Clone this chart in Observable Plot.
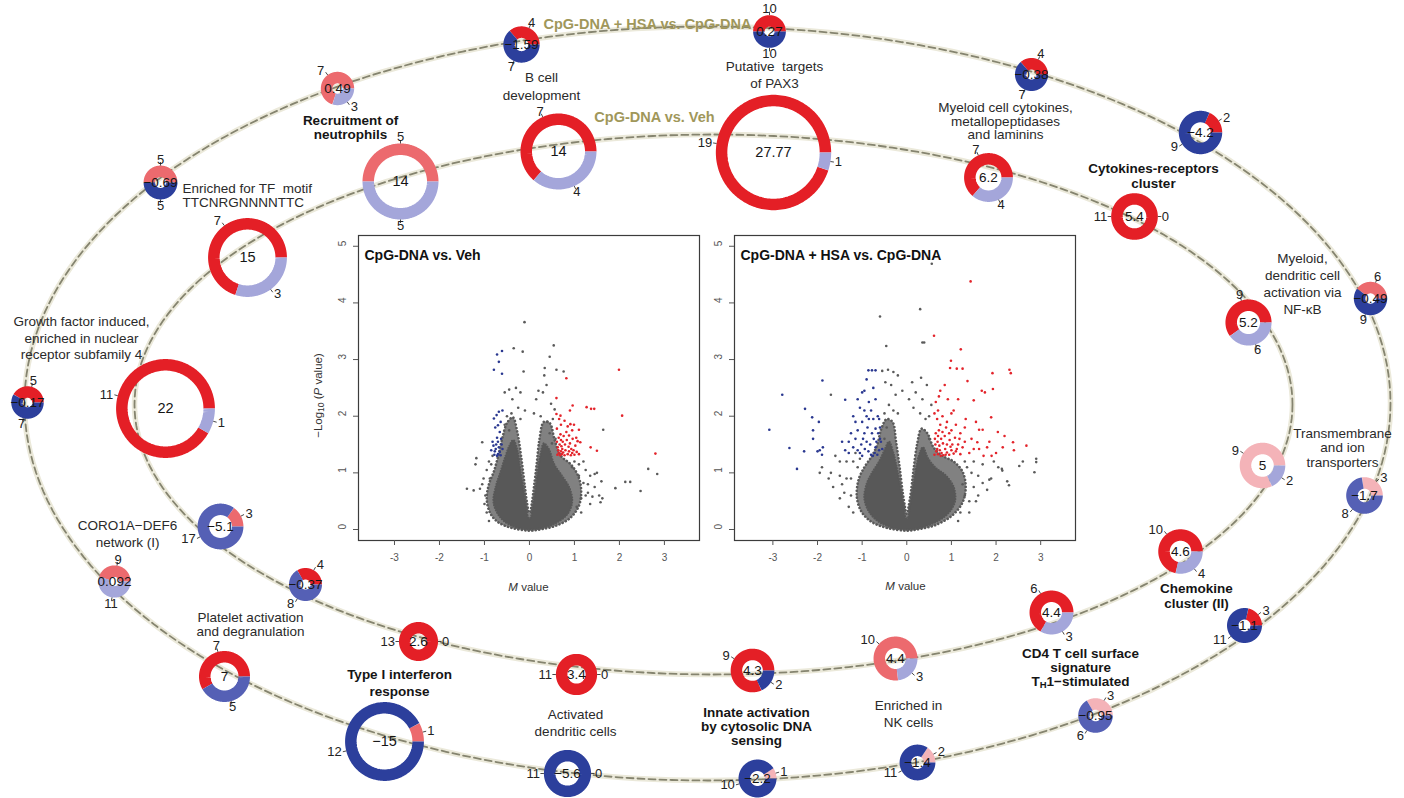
<!DOCTYPE html>
<html><head><meta charset="utf-8">
<script src="https://cdn.jsdelivr.net/npm/d3@7"></script>
<script src="https://cdn.jsdelivr.net/npm/@observablehq/plot@0.6"></script>
<style>
body{margin:0;background:#fff;}
#wrap{position:relative;width:1404px;height:798px;overflow:hidden;background:#fff;}
#wrap svg{position:absolute;}
</style></head><body><div id="wrap"></div>
<script>
// ---------------- DATA ----------------
const modules = [
  "Growth factor induced,\nenriched in nuclear\nreceptor subfamily 4",
  "Enriched for TF  motif\nTTCNRGNNNNTTC",
  "Recruitment of\nneutrophils",
  "B cell\ndevelopment",
  "Putative  targets\nof PAX3",
  "Myeloid cell cytokines,\nmetallopeptidases\nand laminins",
  "Cytokines-receptors\ncluster",
  "Myeloid,\ndendritic cell\nactivation via\nNF-κB",
  "Transmembrane\nand ion\ntransporters",
  "Chemokine\ncluster (II)",
  "CD4 T cell surface\nsignature\nTH1−stimulated",
  "Enriched in\nNK cells",
  "Innate activation\nby cytosolic DNA\nsensing",
  "Activated\ndendritic cells",
  "Type I interferon\nresponse",
  "Platelet activation\nand degranulation",
  "CORO1A−DEF6\nnetwork (I)"
];
const highlightedModules = [2, 6, 9, 10, 12, 14];
const ringTitles = ["CpG-DNA + HSA vs. CpG-DNA", "CpG-DNA vs. Veh"];

// inner ring: CpG-DNA vs. Veh
const vehScore = [22, 15, 14, 14, 27.77, 6.2, 5.4, 5.2, 5, 4.6, 4.4, 4.4, 4.3, 3.4, 2.6, -0.37, -5.1];
const vehUp    = [11, 7, 5, 7, 19, 7, 11, 9, 9, 10, 6, 10, 9, 11, 13, 4, 3];
const vehDown  = [1, 3, 5, 4, 1, 4, 0, 6, 2, 4, 3, 3, 2, 0, 0, 8, 17];
const vehUpLevel   = [3, 3, 2, 3, 3, 3, 3, 3, 1, 3, 3, 2, 3, 3, 3, 3, 2];
const vehDownLevel = [1, 1, 1, 1, 1, 1, 0, 1, 1, 1, 1, 1, 3, 0, 0, 2, 2];
// outer ring: CpG-DNA + HSA vs. CpG-DNA
const hsaScore = [-0.17, -0.69, 0.49, -1.59, 0.27, -0.38, -4.2, -0.49, -1.7, -1.1, -0.95, -1.4, -2.2, -5.6, -15, 7, 0.092];
const hsaUp    = [5, 5, 7, 4, 10, 4, 2, 6, 3, 3, 3, 2, 1, 0, 1, 7, 9];
const hsaDown  = [7, 5, 3, 7, 10, 7, 9, 9, 8, 11, 6, 11, 10, 11, 12, 5, 11];
const hsaUpLevel   = [3, 2, 2, 3, 3, 3, 3, 2, 1, 3, 1, 1, 1, 0, 2, 3, 2];
const hsaDownLevel = [3, 3, 1, 3, 3, 3, 3, 3, 2, 3, 2, 3, 3, 3, 3, 2, 1];

// volcano: CpG-DNA vs. Veh  [M value, -log10 P]
const vehGrey = [[-0.11,3.66],[0.54,3.25],[-0.35,3.2],[-0.15,3.14],[-0.13,2.79],[0.45,3.05],[0.34,2.85],[0.6,2.82],[0.76,2.79],[0.33,2.72],[0.38,2.55],[0.3,2.42],[0.2,2.45],[-0.3,2.5],[-0.2,2.42],[-0.45,2.47],[-0.55,2.42],[-0.38,2.3],[0.15,2.3],[0.48,2.22],[0.56,2.12],[0.1,2.05],[-0.1,2.1],[-0.25,2.15],[-0.5,2.0],[0.45,1.7],[0.5,1.52],[0.4,1.9],[-0.45,1.75],[-0.55,1.85],[0.52,1.95],[0.58,1.6],[-0.4,2.05],[0.25,2.0],[-0.2,1.95],
  [-1.05,1.54],[-1.18,1.26],[-1.2,1.15],[-1.39,0.72],[-1.24,0.69],[-1.1,0.72],[-1.02,0.9],[-0.95,1.05],[-0.9,1.2],[-0.98,0.6],[-1.0,0.45],[-0.95,0.3],[-0.85,1.15],[-0.88,0.9],[-0.82,1.3],[-1.05,0.8],[-0.9,0.15],
  [1.64,1.76],[1.2,1.2],[1.25,1.05],[1.35,0.95],[1.45,0.98],[1.5,1.0],[1.3,0.8],[1.45,0.75],[1.55,0.6],[1.58,0.48],[1.62,0.55],[1.91,0.73],[2.13,0.84],[2.24,0.84],[2.47,0.68],[2.64,1.07],[2.84,0.98],[1.15,0.55],[1.25,0.6],[1.35,0.45],[1.1,0.95],[1.2,0.82],[1.05,0.4],[1.1,1.15],[1.3,0.65],[1.15,0.3],[1.4,0.58],[1.0,1.2],[0.95,1.1],[1.6,0.85]];
const vehRed = [[1.99,2.82],[2.06,2.01],[2.8,1.34],[0.96,2.19],[1.27,2.16],[1.37,2.13],[1.44,2.13],[0.82,2.67],[0.6,2.32],[0.6,2.04],[0.69,2.01],[0.9,2.1],[0.91,1.86],[0.99,1.85],[1.1,1.76],[1.36,1.45],[1.5,1.39],[1.13,1.54],
  [0.62,1.32],[0.65,1.35],[0.68,1.31],[0.7,1.38],[0.72,1.33],[0.75,1.36],[0.78,1.31],[0.8,1.4],[0.85,1.33],[0.88,1.38],[0.92,1.31],[0.95,1.35],[1.0,1.32],[1.05,1.37],[1.1,1.33],[0.63,1.45],[0.67,1.5],[0.71,1.47],[0.74,1.55],[0.79,1.5],[0.83,1.58],[0.87,1.46],[0.9,1.52],[0.96,1.6],[1.02,1.48],[0.65,1.62],[0.69,1.68],[0.76,1.65],[0.82,1.72],[0.88,1.66],[0.95,1.75],[0.61,1.78],[0.7,1.85],[0.66,1.95],[0.78,1.92],[0.85,1.82],[1.07,1.56],[0.64,1.4],[0.73,1.42],[0.93,1.42],[0.61,1.55],[0.7,1.58],[0.98,1.4],[1.04,1.62]];
const vehBlue = [[-0.61,3.15],[-0.72,3.09],[-0.79,2.82],[-0.68,2.96],[-0.61,2.75],[-0.6,2.1],[-0.73,2.02],[-0.79,1.96],[-0.7,1.84],[-0.66,1.72],[-0.72,1.62],[-0.63,1.6],[-0.8,1.48],[-0.74,1.5],[-0.68,1.45],[-0.6,1.42],[-0.77,1.38],[-0.7,1.33],[-0.64,1.31],[-0.82,1.55],[-0.75,1.42],[-0.66,1.37],[-0.62,1.5],[-0.85,1.4],[-0.72,1.3],[-0.76,1.8],[-0.68,2.08],[-0.64,1.9],[-0.78,1.32],[-0.7,1.55]];
// outline of the dense grey cloud: solid core and sparser fringe
const vehCore = [[0,0],[-0.3,0.04],[-0.55,0.14],[-0.72,0.3],[-0.8,0.5],[-0.75,0.75],[-0.65,1.0],[-0.55,1.25],[-0.46,1.45],[-0.36,1.58],[-0.27,1.4],[-0.2,1.05],[-0.13,0.7],[-0.07,0.4],[-0.02,0.2],[0.02,0.2],[0.07,0.4],[0.13,0.7],[0.18,1.0],[0.24,1.3],[0.32,1.52],[0.43,1.42],[0.55,1.15],[0.72,0.95],[0.88,0.75],[0.95,0.5],[0.85,0.28],[0.6,0.12],[0.3,0.03]];
const vehFringe = [[0,-0.02],[-0.4,0.03],[-0.7,0.13],[-0.88,0.3],[-0.95,0.55],[-0.9,0.8],[-0.78,1.05],[-0.68,1.35],[-0.6,1.62],[-0.5,1.88],[-0.37,1.98],[-0.27,1.72],[-0.17,1.2],[-0.1,0.75],[-0.05,0.45],[-0.01,0.3],[0.01,0.3],[0.05,0.45],[0.1,0.75],[0.16,1.15],[0.22,1.58],[0.32,1.9],[0.45,1.88],[0.56,1.58],[0.7,1.3],[0.92,1.15],[1.08,0.95],[1.15,0.7],[1.1,0.42],[0.9,0.2],[0.6,0.07],[0.3,0.01]];

// volcano: CpG-DNA + HSA vs. CpG-DNA
const hsaGrey = [[0.56,4.69],[0.3,3.89],[-0.6,3.76],[-0.46,3.24],[0.35,3.3],[0.39,3.3],[-0.55,2.8],[-0.42,2.82],[-0.3,2.78],[-0.2,2.72],[-0.48,2.6],[-0.35,2.55],[0.12,2.6],[0.32,2.68],[0.45,2.55],[0.2,2.42],[-0.25,2.38],[-0.4,2.2],[0.35,2.3],[0.55,2.2],[0.15,2.15],[-0.2,2.05],[0.5,2.0],[-0.5,2.05],[0.05,2.3],[-0.1,2.45],[0.42,1.95],[-0.45,1.8],[0.5,1.6],[-0.5,1.6],[0.3,2.05],[-0.3,2.1],
  [-1.7,2.38],[-1.5,1.2],[-1.7,1.0],[-1.9,1.1],[-1.95,1.0],[-1.75,0.9],[-1.65,0.75],[-1.5,0.95],[-1.35,0.9],[-1.4,0.65],[-1.5,0.55],[-1.25,0.6],[-1.3,0.4],[-1.2,1.2],[-1.1,1.1],[-1.25,0.9],[-1.35,1.2],[-1.45,0.8],[-1.2,0.3],[-1.05,1.25],[-1.6,1.3],[-1.15,1.35],
  [2.52,1.12],[2.9,1.19],[2.9,1.25],[2.86,1.01],[2.14,1.04],[2.13,1.07],[2.29,0.78],[2.25,0.85],[1.89,0.9],[1.85,0.88],[1.7,0.82],[1.6,0.95],[1.5,0.75],[1.45,1.0],[1.35,1.1],[1.4,0.5],[1.55,0.5],[1.2,0.3],[1.7,1.15],[2.05,1.1],[1.8,0.7],[1.3,1.2],[1.5,1.2],[1.25,0.8],[1.4,0.3],[1.6,0.6],[1.15,0.15],[1.3,0.6],[1.95,1.2],[2.6,1.2]];
const hsaRed = [[1.43,4.38],[0.61,3.42],[1.21,3.18],[0.99,2.98],[0.97,2.85],[1.12,2.84],[1.25,2.84],[1.92,2.76],[2.3,2.82],[2.33,2.76],[1.75,2.42],[1.93,2.48],[1.68,2.45],[1.5,2.28],[1.36,2.62],[0.85,2.55],[0.75,2.45],[0.72,2.35],[0.92,2.3],[1.15,2.3],[1.05,2.1],[0.7,2.1],[0.62,2.05],[0.8,2.0],[1.32,1.95],[1.55,1.9],[1.89,1.98],[1.7,1.76],[1.62,1.76],[2.04,1.72],[2.19,1.65],[2.38,1.54],[2.68,1.48],[1.58,1.54],[1.8,1.45],[2.0,1.35],[1.62,1.42],[1.45,1.6],[1.2,1.7],[1.1,1.85],[0.9,1.9],[1.4,1.35],[1.72,1.3],[2.4,1.4],[1.9,1.3],[1.25,1.45],[1.85,1.55],[1.3,1.8],[1.0,2.05],[0.65,2.25],[0.68,1.95],[1.5,1.42],[2.15,1.45],
  [0.62,1.32],[0.66,1.38],[0.7,1.33],[0.74,1.4],[0.78,1.35],[0.82,1.31],[0.86,1.42],[0.9,1.36],[0.95,1.32],[1.0,1.4],[1.05,1.34],[1.1,1.38],[0.64,1.5],[0.69,1.55],[0.73,1.48],[0.77,1.6],[0.81,1.52],[0.85,1.65],[0.9,1.5],[0.96,1.58],[1.02,1.5],[1.08,1.62],[0.65,1.7],[0.72,1.75],[0.8,1.72],[0.88,1.8],[0.95,1.7],[1.15,1.5],[1.2,1.33],[1.3,1.55],[0.68,1.42],[0.76,1.3],[0.87,1.32],[0.98,1.46],[1.12,1.42],[0.63,1.6],[0.75,1.85],[1.0,1.75],[1.18,1.6],[0.7,1.65]];
const hsaBlue = [[-1.89,2.63],[-2.79,2.38],[-3.08,1.76],[-2.28,2.13],[-2.12,1.98],[-1.97,1.9],[-2.1,1.75],[-2.1,1.6],[-1.88,1.45],[-1.9,1.32],[-2.0,1.38],[-1.95,1.4],[-2.63,1.44],[-2.3,1.38],[-2.46,1.07],[-1.38,2.29],[-1.45,1.55],[-1.38,1.4],[-1.3,1.35],[-1.2,1.45],[-1.15,1.6],[-1.1,1.75],[-1.2,2.0],[-1.05,2.15],[-1.0,2.42],[-0.95,2.45],[-0.86,2.81],[-0.78,2.81],[-0.7,2.81],[-1.05,1.35],[-1.0,1.9],[-0.95,1.7],[-0.9,2.0],[-0.85,2.25],[-0.8,2.1],[-0.75,1.95],[-0.7,2.3],[-0.65,2.0],[-0.6,1.8],[-0.58,1.55],[-0.62,1.4],[-0.66,1.32],[-0.7,1.45],[-0.74,1.6],[-0.78,1.7],[-0.82,1.5],[-0.86,1.38],[-0.9,1.55],[-0.94,1.42],[-0.98,1.6],[-1.02,1.5],[-1.1,1.4],[-0.72,1.35],[-0.68,1.55],[-0.64,1.7],[-0.76,1.3],[-0.88,1.8],[-1.25,1.7],[-0.8,1.32],[-0.6,1.6],[-0.7,1.78],[-0.75,2.5],[-0.9,2.65],[-1.1,2.3],[-0.85,1.95],[-1.3,1.55],[-1.0,1.3],[-0.62,1.95],[-0.55,1.42],[-0.95,2.1],[-1.15,1.9]];
const hsaCore = [[0,0],[-0.35,0.04],[-0.65,0.15],[-0.85,0.32],[-0.95,0.55],[-0.9,0.8],[-0.78,1.0],[-0.62,1.2],[-0.5,1.4],[-0.4,1.55],[-0.3,1.35],[-0.2,1.0],[-0.12,0.65],[-0.06,0.38],[-0.02,0.2],[0.02,0.2],[0.06,0.38],[0.12,0.65],[0.19,1.0],[0.27,1.3],[0.36,1.45],[0.48,1.25],[0.66,1.08],[0.88,0.95],[1.05,0.75],[1.08,0.5],[0.92,0.28],[0.62,0.12],[0.3,0.03]];
const hsaFringe = [[0,-0.02],[-0.45,0.03],[-0.8,0.14],[-1.02,0.32],[-1.12,0.58],[-1.08,0.88],[-0.95,1.1],[-0.78,1.3],[-0.66,1.5],[-0.57,1.78],[-0.45,1.95],[-0.32,1.9],[-0.24,1.55],[-0.16,1.1],[-0.09,0.65],[-0.04,0.4],[-0.01,0.28],[0.01,0.28],[0.04,0.4],[0.09,0.65],[0.15,1.05],[0.23,1.5],[0.33,1.78],[0.46,1.7],[0.6,1.45],[0.8,1.3],[1.05,1.2],[1.25,1.02],[1.32,0.75],[1.25,0.48],[1.02,0.25],[0.65,0.08],[0.3,0.01]];

const xTicks = [-3, -2, -1, 0, 1, 2, 3];
const yTicks = [0, 1, 2, 3, 4, 5];

// ---------------- LAYOUT (pixel positions, not data) ----------------
const innerPos = [[165,408],[247,257],[400,181],[558,151],[773,152],[988,177],[1134,216],[1248,322],[1262,465],[1180,551],[1051,612],[895,658],[752,670],[576,674],[418,641],[305,584],[220,526]];
const outerPos = [[27,402],[160,182],[337,88],[521,44],[769,31],[1031,74],[1200,132],[1370,298],[1364,495],[1244,625],[1095,715],[917,762],[757,778],[567,773],[384,741],[224,676],[114,581]];
const labelLayout = [[81,338,16.5,"middle"],[182,195,14,"start"],[350,127,14,"middle"],[541,86,18,"middle"],[774,74.5,17,"middle"],[1005,121,13.5,"middle"],[1153,175.5,15,"middle"],[1302,283.5,17,"middle"],[1342,447.5,14.5,"middle"],[1196,595.5,15,"middle"],[1080,667,14,"middle"],[908,713.5,17,"middle"],[756,726,14,"middle"],[575,722.5,17,"middle"],[399,682.5,17,"middle"],[250,624,14,"middle"],[127,533.5,17,"middle"]];
const ringTitlePos = [[647,24],[654,117]];
const outerEllipse = {cx: 707, cy: 403, rx: 683, ry: 377};
const innerEllipse = {cx: 713, cy: 404, rx: 579, ry: 270};

// ---------------- STYLE ----------------
const FONT = '"Liberation Sans", Arial, Helvetica, sans-serif';
const upColors = {1: "#f4b3b8", 2: "#ec6a6e", 3: "#e41f26"};
const downColors = {1: "#a4a6da", 2: "#5560b5", 3: "#2c3f9c"};
const RING = 11.5;
const radius = d3.scaleLinear().domain([0, 7, 14, 28]).range([16, 25.5, 38, 58]);

const ctx = document.createElement("canvas").getContext("2d");
function tw(s, size, weight = "normal", style = "normal") {
  ctx.font = `${style} ${weight} ${size}px "Liberation Sans"`;
  return ctx.measureText(s).width;
}

const wrap = document.getElementById("wrap");

// ---------------- VOLCANO PLOTS ----------------
function volcano(grey, red, blue, core, fringe, title, xDomain) {
  const P = (arr, o) => Plot.line(arr, {x: d => d[0], y: d => d[1], curve: "catmull-rom-closed", ...o});
  return Plot.plot({
    width: 410, height: 380,
    marginLeft: 58, marginRight: 11, marginTop: 10, marginBottom: 65,
    x: {domain: xDomain},
    y: {domain: [-0.194, 5.19]},
    style: {background: "transparent", color: "#555", fontFamily: FONT, fontSize: "10px", overflow: "visible"},
    marks: [
      P(fringe, {fill: "#5e5e5e", fillOpacity: 0.78, stroke: "#5a5a5a", strokeWidth: 2.6, strokeLinecap: "round", strokeDasharray: "0.1,3.4"}),
      P(core, {fill: "#585858", stroke: "#585858", strokeWidth: 2.2, strokeLinecap: "round", strokeDasharray: "0.1,2.6"}),
      Plot.dot(grey, {x: d => d[0], y: d => d[1], r: 1.3, fill: "#5a5a5a"}),
      Plot.dot(red, {x: d => d[0], y: d => d[1], r: 1.3, fill: "#e3242b"}),
      Plot.dot(blue, {x: d => d[0], y: d => d[1], r: 1.3, fill: "#2a3890"}),
      Plot.frame({stroke: "#3c3c3c", strokeWidth: 1.2}),
      Plot.axisX({ticks: xTicks, tickSize: 5, tickPadding: 8, tickFormat: d => String(d), label: null, fontSize: 10}),
      Plot.axisY({ticks: yTicks, tickSize: 5, tickFormat: () => "", label: null}),
      Plot.text(yTicks, {y: d => d, text: d => String(d), frameAnchor: "left", dx: -16, rotate: -90, fontSize: 10, fill: "#555"}),
      Plot.text([title], {frameAnchor: "top-left", dx: 6, dy: 15, textAnchor: "start", fontWeight: "bold", fontSize: 14, fill: "#111"})
    ]
  });
}

const v1 = volcano(vehGrey, vehRed, vehBlue, vehCore, vehFringe, ringTitles[1], [-3.8, 3.78]);
v1.style.left = "300px"; v1.style.top = "225px";
wrap.append(v1);
const v2 = volcano(hsaGrey, hsaRed, hsaBlue, hsaCore, hsaFringe, ringTitles[0], [-3.86, 3.78]);
v2.style.left = "676px"; v2.style.top = "225px";
wrap.append(v2);

// ---------------- DONUT RING OVERLAY ----------------
function makeDonuts(ring, scores, ups, downs, upL, downL, pos) {
  return modules.map((m, i) => ({ring, i, score: scores[i], up: ups[i], down: downs[i],
    uc: upColors[upL[i]], dc: downColors[downL[i]], cx: pos[i][0], cy: pos[i][1], r: radius(Math.abs(scores[i]))}));
}
const donuts = [
  ...makeDonuts("in", vehScore, vehUp, vehDown, vehUpLevel, vehDownLevel, innerPos),
  ...makeDonuts("out", hsaScore, hsaUp, hsaDown, hsaUpLevel, hsaDownLevel, outerPos)
];

const arcs = [];
const counts = [];
for (const d of donuts) {
  const a = 2 * Math.PI * d.up / (d.up + d.down);
  const segs = [];
  if (d.up > 0) segs.push({a0: 0, a1: a, color: d.uc});
  if (d.down > 0) segs.push({a0: a, a1: 2 * Math.PI, color: d.dc});
  const rho = d.r - RING / 2;
  segs.forEach((s, k) => {
    const n = Math.max(2, Math.ceil((s.a1 - s.a0) / (Math.PI / 90)));
    for (let j = 0; j <= n; j++) {
      const t = s.a0 + (s.a1 - s.a0) * j / n;
      arcs.push({key: d.ring + d.i + "-" + k, x: d.cx + rho * Math.cos(t), y: d.cy - rho * Math.sin(t), color: s.color});
    }
  });
  [[a / 2, d.up], [(a + 2 * Math.PI) / 2, d.down]].forEach(([t, n]) => {
    const c = Math.cos(t), s = Math.sin(t);
    const dist = d.r + 4 + 2.2 * Math.abs(s);
    counts.push({
      x1: d.cx + d.r * c, y1: d.cy - d.r * s,
      x2: d.cx + (d.r + 3.5) * c, y2: d.cy - (d.r + 3.5) * s,
      tx: d.cx + dist * c, ty: d.cy - dist * s,
      label: String(n),
      anchor: c > 0.45 ? "start" : c < -0.45 ? "end" : "middle"
    });
  });
}

const fmt = v => (v < 0 ? "\u2212" : "") + String(Math.abs(v));
const ell = e => d3.range(0, 361, 1.5).map(a => ({x: e.cx + e.rx * Math.cos(a * Math.PI / 180), y: e.cy + e.ry * Math.sin(a * Math.PI / 180)}));

// module labels
const labelLines = [];
const richPieces = [];
modules.forEach((m, i) => {
  const [lx, ly, lh, anchor] = labelLayout[i];
  const lines = m.split("\n");
  const bold = highlightedModules.includes(i);
  const wt = bold ? "bold" : "normal";
  lines.forEach((line, k) => {
    const y = ly + (k - (lines.length - 1) / 2) * lh;
    if (line.startsWith("TH1")) {
      const parts = [{t: "T", size: 13.5}, {t: "H", size: 9.5, shift: 3.5}, {t: line.slice(2), size: 13.5}];
      const widths = parts.map(p => tw(p.t, p.size, wt));
      let x = lx - d3.sum(widths) / 2;
      parts.forEach((p, j) => { richPieces.push({x, y: y + (p.shift || 0), text: p.t, size: p.size, weight: wt, style: "normal", rotate: 0}); x += widths[j]; });
    } else {
      labelLines.push({x: lx, y, text: line, bold, anchor});
    }
  });
});

// axis titles of the volcano plots (rich text)
function richH(parts, cx, cy) {
  const widths = parts.map(p => tw(p.t, p.size, "normal", p.style || "normal"));
  let x = cx - d3.sum(widths) / 2;
  parts.forEach((p, j) => { richPieces.push({x, y: cy + (p.shift || 0), text: p.t, size: p.size, weight: "normal", style: p.style || "normal", rotate: 0}); x += widths[j]; });
}
function richV(parts, cx, cy) {
  const widths = parts.map(p => tw(p.t, p.size, "normal", p.style || "normal"));
  let s = 0; const W = d3.sum(widths);
  parts.forEach((p, j) => { richPieces.push({x: cx + (p.shift || 0), y: cy + W / 2 - s, text: p.t, size: p.size, weight: "normal", style: p.style || "normal", rotate: -90}); s += widths[j]; });
}
richH([{t: "M", size: 11.5, style: "italic"}, {t: " value", size: 11.5}], 528, 587);
richH([{t: "M", size: 11.5, style: "italic"}, {t: " value", size: 11.5}], 905, 586);
richV([{t: "\u2212Log", size: 11.5}, {t: "10", size: 8.5, shift: 3}, {t: " (", size: 11.5}, {t: "P", size: 11.5, style: "italic"}, {t: " value)", size: 11.5}], 318, 395);

const richMarks = [];
for (const p of richPieces) {
  richMarks.push(Plot.text([p], {x: "x", y: "y", text: "text", textAnchor: "start", fontSize: p.size, fontWeight: p.weight, fontStyle: p.style, rotate: p.rotate, fill: p.rotate ? "#333" : (p.weight === "bold" ? "#151515" : "#333")}));
}

const overlay = Plot.plot({
  width: 1404, height: 798, margin: 0,
  x: {domain: [0, 1404], range: [0, 1404], axis: null},
  y: {domain: [0, 798], range: [0, 798], axis: null},
  color: {type: "identity"},
  style: {background: "transparent", fontFamily: FONT, overflow: "visible"},
  marks: [
    Plot.line(ell(outerEllipse), {x: "x", y: "y", stroke: "#ebe9da", strokeWidth: 5.5}),
    Plot.line(ell(outerEllipse), {x: "x", y: "y", stroke: "#85846f", strokeWidth: 1.8, strokeDasharray: "7,4"}),
    Plot.line(ell(innerEllipse), {x: "x", y: "y", stroke: "#ebe9da", strokeWidth: 5.5}),
    Plot.line(ell(innerEllipse), {x: "x", y: "y", stroke: "#85846f", strokeWidth: 1.8, strokeDasharray: "7,4"}),
    Plot.line(arcs, {x: "x", y: "y", z: "key", stroke: "color", strokeWidth: RING, strokeLinecap: "butt", strokeLinejoin: "round"}),
    Plot.link(counts, {x1: "x1", y1: "y1", x2: "x2", y2: "y2", stroke: "#333", strokeWidth: 0.9}),
    ...["start", "middle", "end"].map(an => Plot.text(counts.filter(d => d.anchor === an), {x: "tx", y: "ty", text: "label", textAnchor: an, fontSize: 13, fill: "#222"})),
    Plot.text(donuts, {x: "cx", y: "cy", text: d => fmt(d.score), fontSize: d => d.r > 30 ? 14.5 : 13.5, fill: "#151515"}),
    Plot.text(ringTitles.map((t, i) => ({t, x: ringTitlePos[i][0], y: ringTitlePos[i][1]})), {x: "x", y: "y", text: "t", fontWeight: "bold", fontSize: 14.5, fill: "#a0975a"}),
    ...[[false, "middle"], [false, "start"], [true, "middle"]].map(([b, an]) =>
      Plot.text(labelLines.filter(d => d.bold === b && d.anchor === an), {x: "x", y: "y", text: "text", textAnchor: an, fontSize: 13.5, fontWeight: b ? "bold" : "normal", fill: b ? "#151515" : "#2a2a2a"})),
    ...richMarks
  ]
});
overlay.style.left = "0px"; overlay.style.top = "0px";
wrap.append(overlay);
</script></body></html>
